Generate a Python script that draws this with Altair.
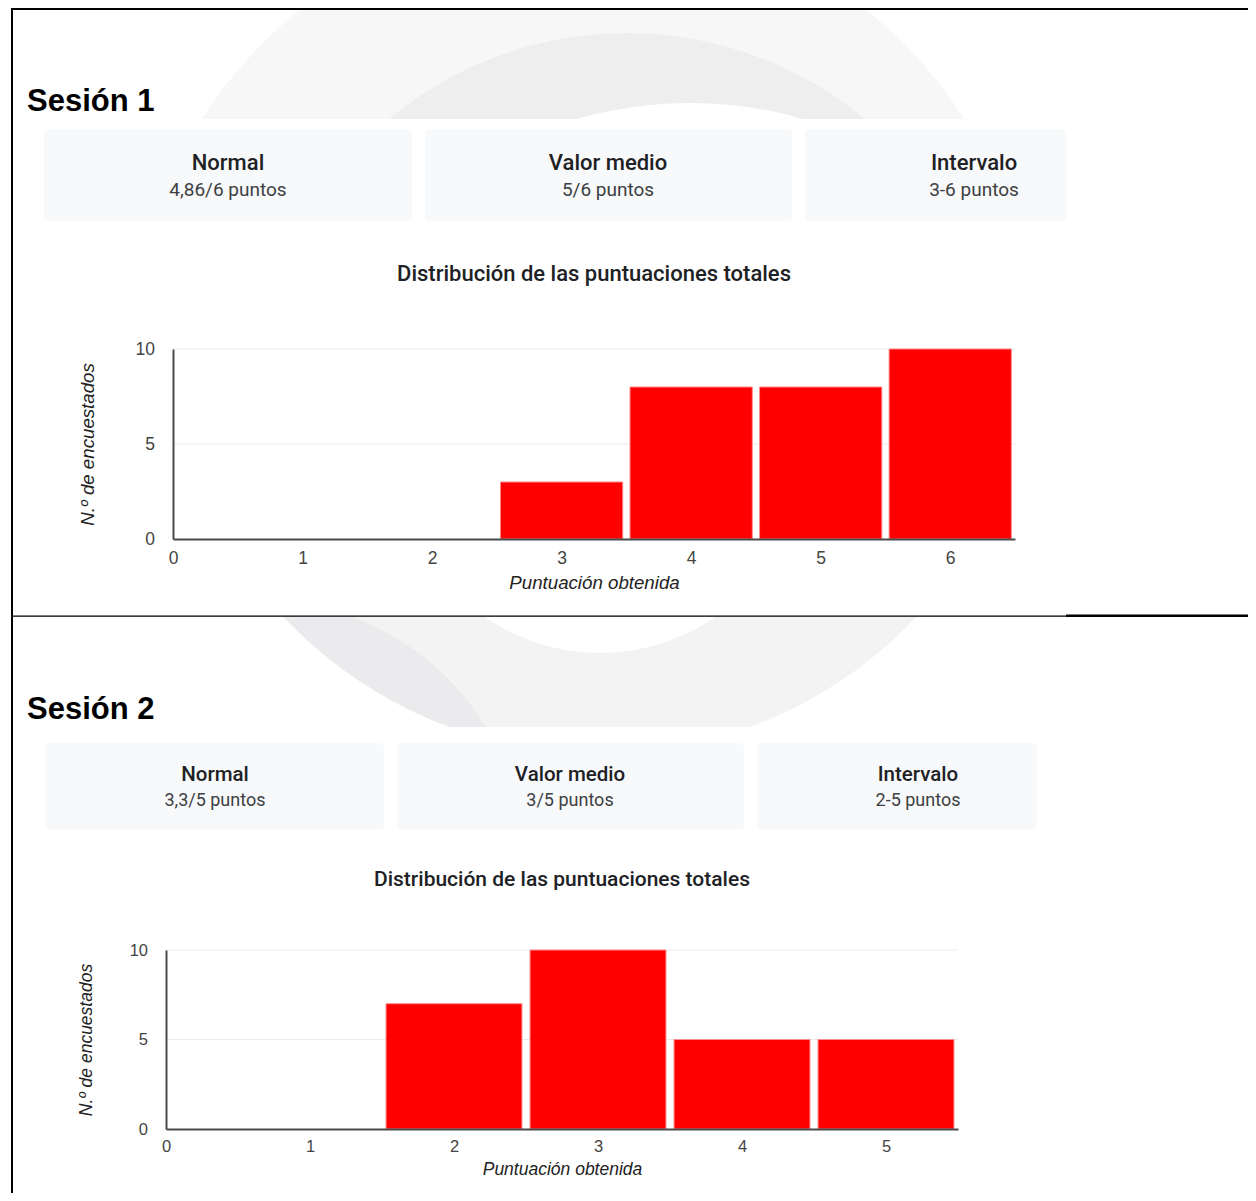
import altair as alt
import pandas as pd

# ---------------- data ----------------
section_titles = ["Sesión 1", "Sesión 2"]
box_titles = ["Normal", "Valor medio", "Intervalo"]
s1_box_values = ["4,86/6 puntos", "5/6 puntos", "3-6 puntos"]
s2_box_values = ["3,3/5 puntos", "3/5 puntos", "2-5 puntos"]
chart_title = "Distribución de las puntuaciones totales"
x_title = "Puntuación obtenida"
y_title = "N.º de encuestados"

s1_scores = [0, 1, 2, 3, 4, 5, 6]
s1_counts = [0, 0, 0, 3, 8, 8, 10]
s2_scores = [0, 1, 2, 3, 4, 5]
s2_counts = [0, 0, 7, 10, 5, 5]
y_ticks = [0, 5, 10]
grid_values = [5, 10]

# ---------------- layout helpers (page pixel coords) ----------------
M = 8
W, H = 1240, 1185
ONE = alt.Data(values=[{"k": 1}])


def v(p):
    return p - M


def rect(x1, y1, x2, y2, color, **kw):
    return alt.Chart(ONE).mark_rect(color=color, **kw).encode(
        x=alt.value(v(x1)), x2=alt.value(v(x2)), y=alt.value(v(y1)), y2=alt.value(v(y2)))


def hline(x1, x2, y, width, color="#000000"):
    return alt.Chart(ONE).mark_rule(color=color, strokeWidth=width).encode(
        x=alt.value(v(x1)), x2=alt.value(v(x2)), y=alt.value(v(y)))


def vline(x, y1, y2, width, color="#000000"):
    return alt.Chart(ONE).mark_rule(color=color, strokeWidth=width).encode(
        x=alt.value(v(x)), y=alt.value(v(y1)), y2=alt.value(v(y2)))


def arc(cx, cy, r, color, t1=0.0, t2=6.2832, r2=None):
    kw = dict(radius=r, theta=t1, theta2=t2, color=color)
    if r2 is not None:
        kw["radius2"] = r2
    return alt.Chart(ONE).mark_arc(**kw).encode(x=alt.value(v(cx)), y=alt.value(v(cy)))


def text(x, y, s, size, weight="normal", font="Roboto", color="#202124",
         align="center", style="normal"):
    return alt.Chart(ONE).mark_text(
        text=s, fontSize=size, fontWeight=weight, font=font, color=color,
        align=align, baseline="middle", fontStyle=style).encode(
        x=alt.value(v(x)), y=alt.value(v(y)))


def hist(scores, counts, x0, x1, ybot, ytop, dmax, label_size, title_size,
         xtitle_y, ytitle_x, label_pad_x):
    df = pd.DataFrame({"score": scores, "count": counts})
    xs = alt.Scale(domain=[0, dmax], range=[v(x0), v(x1)], nice=False, zero=False)
    ys = alt.Scale(domain=[0, 10], range=[v(ybot), v(ytop)], nice=False)
    common = dict(labelFont="Liberation Sans", labelColor="#444444",
                  titleFont="Liberation Sans", titleFontStyle="italic",
                  titleFontWeight="normal", titleColor="#222222",
                  titleFontSize=title_size, labelFontSize=label_size,
                  ticks=False, tickSize=0, grid=False, domainColor="#4a4a4a",
                  domainWidth=2, zindex=1, format="d", labelFlush=False,
                  titleBaseline="middle")
    x_axis = alt.Axis(orient="bottom", offset=v(ybot) - H, values=list(scores),
                      labelPadding=label_pad_x, titleY=xtitle_y - ybot, **common)
    y_axis = alt.Axis(orient="left", offset=-v(x0), values=y_ticks, labelPadding=18.5,
                      titleX=ytitle_x - x0, titleAngle=270, **common)
    grid = alt.Chart(pd.DataFrame({"g": grid_values})).mark_rule(
        color="#ebebeb", strokeWidth=1).encode(
        y=alt.Y("g:Q", scale=ys, title=y_title, axis=y_axis),
        x=alt.datum(0), x2=alt.datum(dmax))
    bars = alt.Chart(df).transform_filter("datum.count > 0").transform_calculate(
        lo="datum.score - 0.472", hi="datum.score + 0.472").mark_rect(
        color="#ff0000", stroke="#ff8a8a", strokeWidth=1).encode(
        x=alt.X("lo:Q", scale=xs, title=x_title, axis=x_axis),
        x2="hi:Q",
        y=alt.Y("count:Q", scale=ys, title=y_title, axis=y_axis),
        y2=alt.datum(0),
    )
    return alt.layer(grid, bars)


layers = []
# --- faint watermark, section 2 (bottom part of a ring) ---
layers += [arc(600, 320, 434, "#f3f3f4"),
           arc(262, 863, 262, "#ebebed"),
           arc(600, 320, 1500, "#ffffff", r2=434),
           arc(600, 451, 202, "#ffffff")]
layers += [rect(0, 0, 1256, 616, "#ffffff"), rect(0, 727, 1256, 1215, "#ffffff")]
# --- faint watermark, section 1 (top part of a ring) ---
layers += [arc(583, 362, 452, "#f7f7f8", 5.0, 7.56),
           arc(627, 405, 372, "#eeeeef", 5.2, 7.36),
           arc(690, 514, 411, "#ffffff", 5.5, 7.07)]
layers += [rect(0, 119, 1256, 616, "#ffffff")]

# --- borders ---
layers += [hline(11, 1256, 9, 2.2), vline(12, 8, 1201, 2),
           hline(12, 1066, 616.2, 1.3), hline(1066, 1256, 615.7, 2.4)]

# --- section 1 header ---
layers.append(text(27, 102, section_titles[0], 31, "bold", "Liberation Sans", "#000000", "left"))
s1_boxes = [(44, 412), (425, 792), (805, 1066)]
s1_centers = [228, 608, 974]
for (bx0, bx1), cx, t, val in zip(s1_boxes, s1_centers, box_titles, s1_box_values):
    layers.append(rect(bx0, 129, bx1, 221, "#f8f9fa", cornerRadius=4))
    layers.append(text(cx, 163, t, 22, 500))
    layers.append(text(cx, 190, val, 19, "normal", "Roboto", "#3c4043"))
layers.append(text(594, 274, chart_title, 22, 500, "Roboto", "#202124"))

# --- section 2 header ---
layers.append(text(27, 710, section_titles[1], 31, "bold", "Liberation Sans", "#000000", "left"))
s2_boxes = [(46, 384), (397, 744), (757, 1037)]
s2_centers = [215, 570, 918]
for (bx0, bx1), cx, t, val in zip(s2_boxes, s2_centers, box_titles, s2_box_values):
    layers.append(rect(bx0, 743, bx1, 830, "#f8f9fa", cornerRadius=4))
    layers.append(text(cx, 775, t, 20.5, 500))
    layers.append(text(cx, 801, val, 18, "normal", "Roboto", "#3c4043"))
layers.append(text(562, 880, chart_title, 21, 500, "Roboto", "#202124"))

hist1 = hist(s1_scores, s1_counts, 173, 1015, 539, 349, 6.5, 17.5, 18.7, 582, 87, 10)
hist2 = hist(s2_scores, s2_counts, 166, 958, 1129, 950, 5.5, 16.5, 17.5, 1169, 86, 9)

chart = alt.layer(*layers, hist1, hist2).resolve_scale(
    x="independent", y="independent").properties(
    width=W, height=H, padding=0,
    autosize=alt.AutoSizeParams(type="none"),
    background="#ffffff").configure_view(stroke=None)

chart.save("out.html", embed_options={"renderer": "svg", "actions": False})
